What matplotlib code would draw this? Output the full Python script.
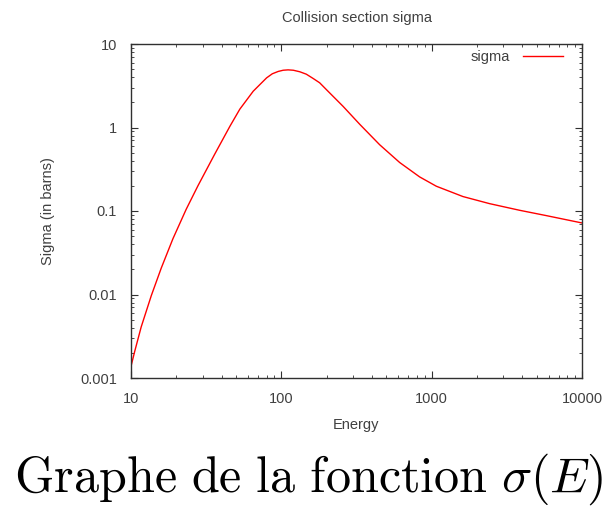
import numpy as np
import matplotlib
matplotlib.use('Agg')
import matplotlib.pyplot as plt
from matplotlib.ticker import LogLocator, FixedLocator, FixedFormatter, NullFormatter

# values
energy = [10, 10.59, 11.69, 13.65, 15.89, 19.01, 23.28, 27.86, 35.97, 45.5, 52.97,
          65.01, 79.8, 87.1, 95.28, 102.8, 110.9, 120.2, 132.7, 146.6, 162.6, 179.9,
          199.5, 257.6, 332.7, 450.8, 612.4, 831.8, 1074, 1614, 2427, 3846, 5781, 10000]
sigma = [0.00138, 0.00209, 0.00409, 0.00971, 0.0207, 0.0466, 0.1047, 0.200, 0.476,
         1.035, 1.66, 2.72, 3.93, 4.40, 4.69, 4.85, 4.90, 4.85, 4.65, 4.35, 3.87, 3.43,
         2.84, 1.79, 1.09, 0.622, 0.381, 0.256, 0.198, 0.149, 0.1225, 0.102, 0.0881, 0.0719]

xticks = [10, 100, 1000, 10000]
xticklabels = ['10', '100', '1000', '10000']
yticks = [0.001, 0.01, 0.1, 1, 10]
yticklabels = ['0.001', '0.01', '0.1', '1', '10']

plt.rcParams['font.family'] = ['Liberation Sans', 'DejaVu Sans']
plt.rcParams['mathtext.fontset'] = 'cm'
txtcol = '#404040'
fs = 10.5

fig = plt.figure(figsize=(6.09, 5.13), dpi=100)
ax = fig.add_axes([131/609, 1 - 378/513, (582 - 131)/609, (378 - 44)/513])

ax.plot(energy, sigma, color='#ff0000', lw=1.0, label='sigma')
ax.set_xscale('log')
ax.set_yscale('log')
ax.set_xlim(10, 10000)
ax.set_ylim(0.001, 10)

ax.xaxis.set_major_locator(FixedLocator(xticks))
ax.xaxis.set_major_formatter(FixedFormatter(xticklabels))
ax.yaxis.set_major_locator(FixedLocator(yticks))
ax.yaxis.set_major_formatter(FixedFormatter(yticklabels))
for a in (ax.xaxis, ax.yaxis):
    a.set_minor_locator(LogLocator(base=10, subs=np.arange(2, 10), numticks=20))
    a.set_minor_formatter(NullFormatter())

ax.tick_params(which='both', direction='in', top=True, right=True,
               colors='#303030', labelcolor=txtcol, labelsize=fs)
ax.tick_params(which='major', length=5, width=0.8, pad=10)
ax.tick_params(which='minor', length=2.5, width=0.6)
for s in ax.spines.values():
    s.set_color('#303030')
    s.set_linewidth(1.0)

ax.set_title('Collision section sigma', fontsize=fs, color=txtcol, pad=16)
ax.set_xlabel('Energy', fontsize=fs, color=txtcol, labelpad=9)
ax.set_ylabel('Sigma (in barns)', fontsize=fs, color=txtcol, labelpad=18)

leg = ax.legend(loc='upper right', bbox_to_anchor=(0.971, 1.0), frameon=False,
                fontsize=fs, markerfirst=False, handlelength=2.75,
                handletextpad=0.9, borderaxespad=0)
for t in leg.get_texts():
    t.set_color(txtcol)

fig.text(0.5 + 4/609, 1 - 492/513, r'$\mathrm{Graphe\ de\ la\ fonction}\ \sigma(E)$',
         ha='center', va='baseline', fontsize=36.2, color='black')

fig.savefig('out.png', dpi=100)
